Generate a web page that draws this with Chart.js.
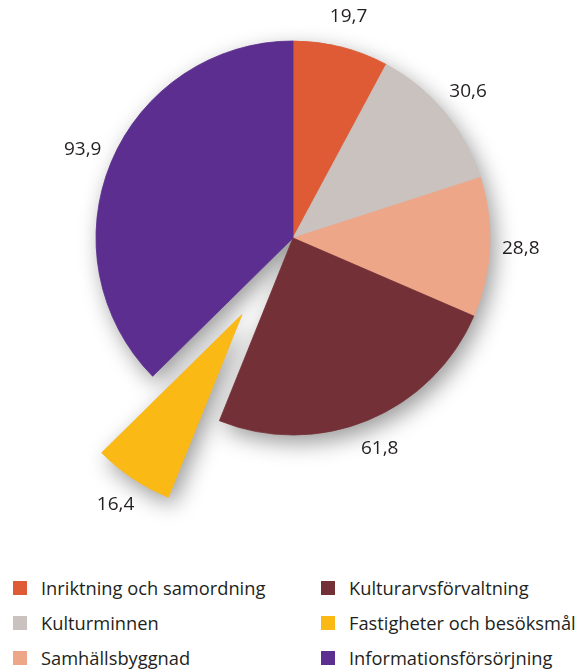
<!DOCTYPE html>
<html>
<head>
<meta charset="utf-8">
<script src="https://cdn.jsdelivr.net/npm/chart.js@4/dist/chart.umd.min.js"></script>
<style>
  html, body { margin: 0; padding: 0; background: #fff; width: 584px; height: 669px; overflow: hidden; }
  body { font-family: "Open Sans", sans-serif; color: #231f20; }
  #pie { position: absolute; left: 0; top: 0; }
  #legend {
    position: absolute; left: 0; top: 570px; width: 584px;
    display: grid; grid-template-columns: 308px 276px; grid-template-rows: repeat(3, 35px);
    grid-auto-flow: column;
  }
  .item { display: flex; align-items: center; padding-left: 13px; font-size: 18.3px; white-space: nowrap; }
  .sw { width: 14px; height: 14px; margin-right: 14px; flex: none; }
</style>
</head>
<body>
<canvas id="pie" width="584" height="560"></canvas>
<div id="legend"></div>
<script>
// Budget shares by area (MSEK)
const categories = [
  'Inriktning och samordning',
  'Kulturminnen',
  'Samhällsbyggnad',
  'Kulturarvsförvaltning',
  'Fastigheter och besöksmål',
  'Informationsförsörjning'
];
const values = [19.7, 30.6, 28.8, 61.8, 16.4, 93.9];
const colors = ['#de5b35', '#c9c2be', '#eda688', '#733037', '#fbb916', '#5b2e8f'];

const fmt = v => v.toFixed(1).replace('.', ',');

// Pulls one slice out from the centre, paints a soft shadow under the pie
// and writes each value just outside its slice.
const piePlugin = {
  id: 'pieDecor',
  beforeDatasetsDraw(chart, args, opts) {
    const arcs = chart.getDatasetMeta(0).data;
    const a = arcs[opts.explodeIndex];
    const mid = (a.startAngle + a.endAngle) / 2;
    a.x += Math.cos(mid) * opts.explode;
    a.y += Math.sin(mid) * opts.explode;

    const ctx = chart.ctx;
    ctx.save();
    ctx.shadowColor = 'rgba(0,0,0,0.4)';
    ctx.shadowBlur = 22;
    ctx.shadowOffsetX = 5;
    ctx.shadowOffsetY = 8;
    ctx.fillStyle = '#bbb';
    ctx.beginPath();
    arcs.forEach(el => {
      ctx.moveTo(el.x, el.y);
      ctx.arc(el.x, el.y, el.outerRadius, el.startAngle, el.endAngle);
      ctx.closePath();
    });
    ctx.fill();
    ctx.restore();
  },
  afterDatasetsDraw(chart, args, opts) {
    const arcs = chart.getDatasetMeta(0).data;
    const ctx = chart.ctx;
    ctx.save();
    ctx.font = '19px "Open Sans", sans-serif';
    ctx.fillStyle = '#231f20';
    ctx.textAlign = 'center';
    ctx.textBaseline = 'middle';
    arcs.forEach((el, i) => {
      const mid = (el.startAngle + el.endAngle) / 2;
      const r = el.outerRadius + opts.labelGap;
      ctx.fillText(fmt(values[i]), el.x + Math.cos(mid) * r, el.y + Math.sin(mid) * r);
    });
    ctx.restore();
    const a = arcs[opts.explodeIndex];
    const mid = (a.startAngle + a.endAngle) / 2;
    a.x -= Math.cos(mid) * opts.explode;
    a.y -= Math.sin(mid) * opts.explode;
  }
};

new Chart(document.getElementById('pie'), {
  type: 'pie',
  data: {
    labels: categories,
    datasets: [{
      data: values,
      backgroundColor: colors,
      borderColor: colors,
      borderWidth: 0.8
    }]
  },
  options: {
    responsive: false,
    animation: false,
    devicePixelRatio: 1,
    radius: 197,
    layout: { padding: { left: 2, right: 0, top: 0, bottom: 84 } },
    events: [],
    plugins: {
      legend: { display: false },
      tooltip: { enabled: false },
      pieDecor: { explodeIndex: 4, explode: 92, labelGap: 31 }
    }
  },
  plugins: [piePlugin]
});

// Two-column legend, filled column by column
const legend = document.getElementById('legend');
categories.forEach((name, i) => {
  const item = document.createElement('div');
  item.className = 'item';
  const sw = document.createElement('span');
  sw.className = 'sw';
  sw.style.background = colors[i];
  const txt = document.createElement('span');
  txt.textContent = name;
  item.appendChild(sw);
  item.appendChild(txt);
  legend.appendChild(item);
});
</script>
</body>
</html>
